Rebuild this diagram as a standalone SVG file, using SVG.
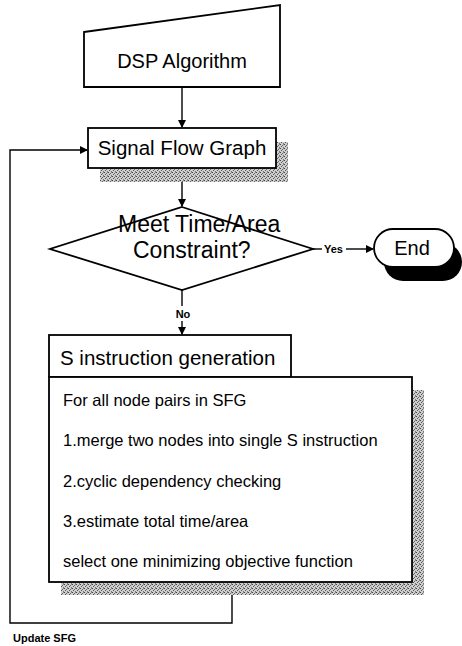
<svg xmlns="http://www.w3.org/2000/svg" width="462" height="646" viewBox="0 0 462 646">
<style>
.box{fill:#fff;stroke:#000;stroke-width:1.8}
.ln{fill:none;stroke:#000;stroke-width:1.4}
.t{font-family:"Liberation Sans",Arial,sans-serif;fill:#000}
.sm{font-family:"Liberation Sans",Arial,sans-serif;font-weight:bold;fill:#000;font-size:11px}
</style>
<defs>
<pattern id="dots" width="4" height="4" patternUnits="userSpaceOnUse">
<rect width="4" height="4" fill="#cfcfcf"/>
<rect x="0" y="0" width="1" height="1" fill="#444"/>
<rect x="2" y="1" width="1" height="1" fill="#666"/>
<rect x="1" y="2" width="1" height="1" fill="#555"/>
<rect x="3" y="3" width="1" height="1" fill="#777"/>
<rect x="3" y="0" width="1" height="1" fill="#888"/>
</pattern>
<marker id="arr" markerWidth="8" markerHeight="8" refX="7" refY="4" orient="auto" markerUnits="userSpaceOnUse">
<path d="M0,0 L8,4 L0,8 Z" fill="#000"/>
</marker>
</defs>
<g id="connectors">
<line class="ln" x1="182" y1="87" x2="182" y2="127" marker-end="url(#arr)"/>
<line class="ln" x1="182" y1="168" x2="182" y2="206" marker-end="url(#arr)"/>
<line class="ln" x1="182" y1="290" x2="182" y2="306"/>
<line class="ln" x1="182" y1="321" x2="182" y2="334" marker-end="url(#arr)"/>
<text class="sm" x="183" y="318" text-anchor="middle">No</text>
<line class="ln" x1="313" y1="249" x2="322" y2="249"/>
<text class="sm" x="324" y="253">Yes</text>
<line class="ln" x1="346" y1="249" x2="373" y2="249" marker-end="url(#arr)"/>
<polyline class="ln" points="232,582 232,623 10,623 10,150 87,150" marker-end="url(#arr)"/>
<text class="sm" x="13" y="642" font-size="12">Update SFG</text>
</g>
<g id="dsp">
<path class="box" d="M84,32 L280,5 L280,87 L84,87 Z"/>
<text class="t" x="182" y="68" font-size="20" text-anchor="middle">DSP Algorithm</text>
</g>
<g id="sfg">
<rect x="100" y="142" width="188" height="40" fill="url(#dots)"/>
<rect class="box" x="88" y="128" width="188" height="40"/>
<text class="t" x="182" y="155" font-size="20.5" text-anchor="middle">Signal Flow Graph</text>
</g>
<g id="decision">
<path class="box" d="M182,207 L313,249 L182,290 L50,249 Z"/>
<text class="t" x="118" y="232" font-size="23">Meet Time/Area</text>
<text class="t" x="133" y="258" font-size="23">Constraint?</text>
</g>
<g id="end">
<rect x="384" y="243" width="78" height="38" rx="19" fill="#000"/>
<rect class="box" x="374" y="229" width="80" height="38" rx="19"/>
<text class="t" x="412" y="255" font-size="20" text-anchor="middle">End</text>
</g>
<g id="sgen">
<rect x="61" y="390" width="363" height="205" fill="url(#dots)"/>
<rect class="box" x="49" y="335" width="242" height="42"/>
<text class="t" x="60" y="365" font-size="20.5">S instruction generation</text>
<rect class="box" x="49" y="377" width="363" height="205"/>
<text class="t" x="63" y="406" font-size="16.5">For all node pairs in SFG</text>
<text class="t" x="63" y="446" font-size="16.5">1.merge two nodes into single S instruction</text>
<text class="t" x="63" y="487" font-size="16.5">2.cyclic dependency checking</text>
<text class="t" x="63" y="527" font-size="16.5">3.estimate total time/area</text>
<text class="t" x="63" y="567" font-size="16.5">select one minimizing objective function</text>
</g>
</svg>
